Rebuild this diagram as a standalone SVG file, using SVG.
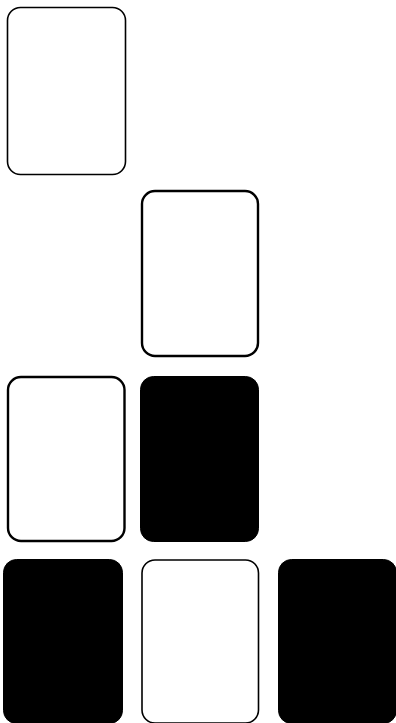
<svg xmlns="http://www.w3.org/2000/svg" width="396" height="723" viewBox="0 0 396 723">
<style>
.w{fill:#fff;stroke:#000}
.b{fill:#000;stroke:#000;stroke-width:1}
</style>
<rect width="396" height="723" fill="#fff"/>
<g id="card1"><rect class="w" x="7.5" y="7.5" width="118" height="167" rx="13" stroke-width="1.6"/></g>
<g id="card2"><rect class="w" x="142" y="191" width="116" height="165" rx="13" stroke-width="2.4"/></g>
<g id="card3"><rect class="w" x="8" y="377" width="116.5" height="164" rx="13" stroke-width="2.4"/></g>
<g id="card4"><rect class="b" x="140.5" y="376.5" width="118" height="165" rx="13"/></g>
<g id="card5"><rect class="b" x="3.5" y="559.5" width="119" height="164" rx="13"/></g>
<g id="card6"><rect class="w" x="142" y="560" width="116.5" height="163" rx="13" stroke-width="1.6"/></g>
<g id="card7"><rect class="b" x="278.5" y="559.5" width="118" height="164" rx="13"/></g>
</svg>
